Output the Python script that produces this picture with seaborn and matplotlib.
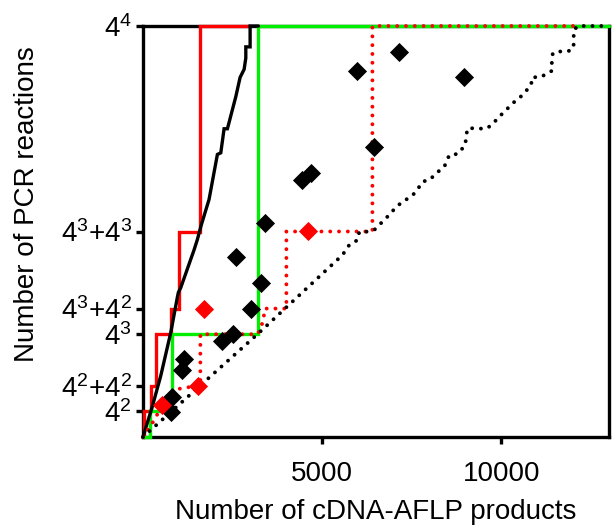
import matplotlib
matplotlib.use("Agg")
import matplotlib.pyplot as plt
import seaborn as sns
import pandas as pd

# ---------------- data ----------------
# black solid step curve
blk_x = [0, 260, 494, 774, 958, 986, 1053, 1424, 1517, 1612, 1843, 2075, 2170, 2262,
         2355, 2402, 2589, 2709, 2821, 2868, 2868, 2988, 2988, 3220]
blk_y = [0, 19, 38, 65, 87, 90, 93, 116.5, 123, 131, 148, 176, 177, 192,
         192, 196, 212, 224, 229, 236, 243, 243, 256, 256]

# red solid step curve
red_x = [28, 28, 215, 215, 360, 360, 780, 780, 1000, 1000, 1590, 1590, 2960]
red_y = [0, 16, 16, 32, 32, 64, 64, 80, 80, 128, 128, 256, 256]

# green solid step curve
grn_x = [0, 190, 190, 800, 800, 3200, 3200, 13000]
grn_y = [0, 0, 16, 16, 64, 64, 256, 256]

# red dotted curve
rdot_x = [0, 300, 540, 1000, 1540, 1600, 1600, 3200, 3350, 3400, 4000, 4000, 6400, 6400, 12000]
rdot_y = [0, 10, 20, 30, 32, 32, 64, 64, 72, 80, 80, 128, 128, 256, 256]

# black dotted curve
bdot_x = [0, 3192, 5566, 5754, 5986, 6033, 6265, 6452, 6591, 6823, 7058, 7242, 7477,
          7617, 7801, 7988, 8267, 8407, 8547, 8779, 8993, 9013, 9058, 9292, 9552,
          9711, 9943, 10130, 10314, 10454, 10594, 10828, 10856, 11080, 11264, 11415,
          11404, 11432, 11599, 11850, 12010, 12018, 12010, 12130, 13000]
bdot_y = [0, 64, 113.4, 119.6, 122.7, 127.9, 127.9, 129, 132.1, 137.3, 143.1, 146.6,
          149.7, 152.8, 159.1, 160.1, 165.9, 168.4, 175.7, 176.3, 181.9, 187.5, 192.3,
          192.3, 191.9, 194, 199.6, 203.7, 207.9, 210.4, 213.1, 219.3, 224.1, 224.1,
          226.2, 228.2, 233.8, 239.1, 240.1, 240.1, 242.2, 247.8, 253.2, 256, 256]

# diamonds
bd_x = [2589, 3287, 3025, 2522, 2198, 1145, 1081, 818, 774, 5969, 6452, 4449, 4684,
        3399, 7150, 8965]
bd_y = [112, 95.8, 79.8, 64.2, 60, 48.4, 41.7, 24.7, 15.8, 228.2, 180.5, 160.1,
        164.3, 133.1, 240, 224.1]
rd_x = [4608, 1704, 1536, 539]
rd_y = [128.3, 79.8, 32, 19.9]

yticks = [16, 32, 64, 80, 128, 256]
ytick_labels = ['$4^2$', '$4^2$+$4^2$', '$4^3$', '$4^3$+$4^2$', '$4^3$+$4^3$', '$4^4$']
xticks = [5000, 10000]
xtick_labels = ['5000', '10000']

# ---------------- style ----------------
sns.set_theme(style="ticks")
plt.rcParams['font.family'] = ['Liberation Sans', 'DejaVu Sans']
plt.rcParams['mathtext.fontset'] = 'custom'
plt.rcParams['mathtext.rm'] = 'Liberation Sans'
plt.rcParams['mathtext.it'] = 'Liberation Sans'
plt.rcParams['mathtext.default'] = 'regular'
plt.rcParams['text.color'] = 'black'
plt.rcParams['axes.labelcolor'] = 'black'

fig = plt.figure(figsize=(6.12, 5.29), dpi=100)
ax = fig.add_axes([143 / 612, (529 - 437) / 529, 466 / 612, 411 / 529])

LW = 2.4
DLW = 2.8
dot_style = (0, (0.01, 2.25))

def line(x, y, color, ls='-', z=2):
    df = pd.DataFrame({'x': x, 'y': y})
    sns.lineplot(data=df, x='x', y='y', sort=False, estimator=None, color=color,
                 linewidth=(LW if ls == '-' else DLW), ax=ax, zorder=z)
    l = ax.lines[-1]
    l.set_clip_on(False)
    if ls != '-':
        l.set_linestyle(ls)
        l.set_dash_capstyle('round')
    else:
        l.set_solid_joinstyle('miter')

line(red_x, red_y, '#ff0000', z=3)
line(grn_x, grn_y, '#00ee00', z=4)
line(blk_x, blk_y, 'black', z=5)
line(rdot_x, rdot_y, '#ff0000', ls=dot_style, z=6)
line(bdot_x, bdot_y, 'black', ls=dot_style, z=7)

sns.scatterplot(x=bd_x, y=bd_y, marker='D', s=95, color='black', edgecolor='black',
                linewidth=0, ax=ax, zorder=8, clip_on=False)
sns.scatterplot(x=rd_x, y=rd_y, marker='D', s=95, color='#ff0000', edgecolor='#ff0000',
                linewidth=0, ax=ax, zorder=8, clip_on=False)

ax.set_xlim(0, 13000)
ax.set_ylim(0, 256)
ax.set_xticks(xticks)
ax.set_xticklabels(xtick_labels)
ax.set_yticks(yticks)
ax.set_yticklabels(ytick_labels)

for s in ax.spines.values():
    s.set_linewidth(2.4)
    s.set_color('black')
    s.set_zorder(1)

ax.tick_params(axis='both', direction='out', length=5, width=2.4, labelsize=20,
               colors='black')
ax.tick_params(axis='x', pad=12)
ax.tick_params(axis='y', pad=3)

ax.set_xlabel('Number of cDNA-AFLP products', fontsize=20, labelpad=9, color='black')
ax.set_ylabel('Number of PCR reactions', fontsize=20, color='black')
ax.yaxis.set_label_coords(-0.222, 0.567)

fig.savefig('out.png', dpi=100)
